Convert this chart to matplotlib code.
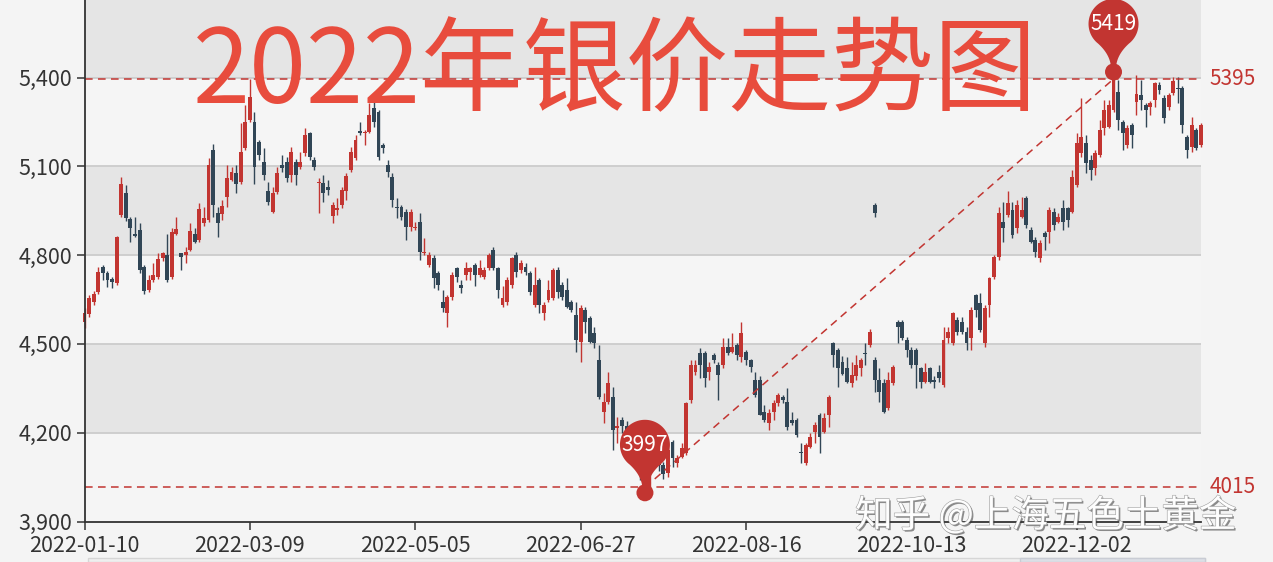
import numpy as np
import matplotlib
matplotlib.use("Agg")
import matplotlib.pyplot as plt
import matplotlib.transforms as mtransforms
import matplotlib.patheffects as pe
from matplotlib.patches import Polygon, Circle, Rectangle
from matplotlib.ticker import FuncFormatter

plt.rcParams['font.family'] = ['Noto Sans CJK SC', 'DejaVu Sans']

# =========================
# Data: one candle per trading day, 2022-01-10 onward
# =========================
opens = [4575, 4600, 4640, 4676, 4761, 4738, 4721, 4705, 4935, 5009,
         4921, 4873, 4885, 4761, 4682, 4716, 4727, 4789, 4800, 4727,
         4873, 4806, 4800, 4819, 4873, 4851, 4907, 4919, 5155, 4941,
         4939, 4997, 5054, 5076, 5048, 5161, 5256, 5251, 5183, 5116,
         5018, 4947, 5014, 5105, 5116, 5071, 5116, 5099, 5144, 5212,
         5122, 5045, 5045, 5031, 4932, 4953, 4970, 5015, 5088, 5127,
         5221, 5212, 5217, 5296, 5285, 5172, 5105, 5065, 4962, 4964,
         4947, 4896, 4890, 4913, 4806, 4767, 4789, 4739, 4643, 4604,
         4660, 4756, 4699, 4733, 4744, 4767, 4733, 4727, 4755, 4817,
         4755, 4632, 4643, 4699, 4800, 4750, 4761, 4739, 4632, 4716,
         4604, 4648, 4654, 4750, 4699, 4682, 4643, 4598, 4508, 4615,
         4587, 4536, 4446, 4271, 4305, 4322, 4215, 4243, 4221, 4160,
         4190, 4120, 4060, 4020, 4165, 4130, 4090, 4063, 4170, 4097,
         4119, 4130, 4310, 4406, 4468, 4468, 4406, 4462, 4429, 4429,
         4491, 4474, 4496, 4457, 4474, 4446, 4378, 4378, 4271, 4232,
         4271, 4299, 4322, 4305, 4243, 4243, 4135, 4097, 4153, 4204,
         4260, 4204, 4260, 4502, 4480, 4440, 4418, 4367, 4390, 4418,
         4469, 4496, 4446, 4378, 4367, 4282, 4367, 4575, 4575, 4513,
         4480, 4480, 4418, 4373, 4418, 4378, 4406, 4361, 4519, 4502,
         4581, 4575, 4541, 4519, 4665, 4637, 4502, 4632, 4727, 4795,
         4913, 4936, 4952, 4890, 4930, 4992, 4885, 4851, 4789, 4874,
         4879, 4947, 4913, 4958, 4958, 4947, 5037, 5144, 5178, 5121,
         5093, 5138, 5228, 5234, 5290, 5352, 5251, 5172, 5240, 5318,
         5341, 5307, 5301, 5324, 5375, 5330, 5301, 5347, 5365, 5363,
         5200, 5167, 5223, 5172]

closes = [4605, 4655, 4670, 4744, 4738, 4716, 4710, 4862, 5040, 4924,
          4890, 4864, 4750, 4678, 4716, 4733, 4786, 4806, 4716, 4879,
          4887, 4795, 4812, 4882, 4845, 4955, 4924, 5104, 4969, 4907,
          4967, 5059, 5082, 5042, 5149, 5251, 5335, 5099, 5138, 5071,
          4980, 5009, 5076, 5093, 5060, 5150, 5071, 5116, 5206, 5133,
          5097, 5048, 5009, 5020, 4970, 4958, 5020, 5067, 5150, 5189,
          5212, 5217, 5274, 5251, 5133, 5161, 5082, 4986, 4958, 4930,
          4896, 4947, 4896, 4812, 4812, 4800, 4722, 4699, 4620, 4660,
          4733, 4727, 4688, 4755, 4755, 4733, 4755, 4750, 4800, 4755,
          4682, 4654, 4716, 4789, 4744, 4772, 4744, 4677, 4699, 4632,
          4632, 4682, 4750, 4677, 4660, 4626, 4615, 4513, 4620, 4575,
          4508, 4502, 4322, 4305, 4367, 4209, 4221, 4221, 4160, 4190,
          4120, 4060, 4015, 4070, 4130, 4090, 4060, 4142, 4115, 4113,
          4147, 4300, 4429, 4429, 4429, 4384, 4423, 4446, 4395, 4491,
          4468, 4491, 4462, 4536, 4446, 4423, 4327, 4260, 4243, 4265,
          4299, 4327, 4310, 4220, 4232, 4192, 4130, 4158, 4187, 4226,
          4187, 4249, 4322, 4463, 4418, 4400, 4373, 4395, 4429, 4446,
          4466, 4541, 4378, 4339, 4271, 4378, 4423, 4558, 4519, 4480,
          4429, 4429, 4373, 4406, 4373, 4373, 4384, 4513, 4541, 4603,
          4541, 4541, 4502, 4615, 4615, 4547, 4620, 4722, 4795, 4941,
          4890, 4975, 4868, 4970, 4952, 4902, 4845, 4812, 4840, 4862,
          4953, 4902, 4930, 4913, 4919, 5065, 5178, 5200, 5110, 5088,
          5144, 5223, 5290, 5307, 5395, 5257, 5211, 5228, 5206, 5346,
          5324, 5290, 5313, 5380, 5358, 5262, 5341, 5390, 5360, 5240,
          5155, 5240, 5161, 5240]

highs = [4620, 4665, 4680, 4760, 4767, 4745, 4727, 4865, 5065, 5037,
         4930, 4930, 4907, 4765, 4733, 4772, 4806, 4812, 4873, 4890,
         4930, 4808, 4829, 4907, 4890, 4975, 4964, 5127, 5174, 4964,
         4986, 5104, 5099, 5104, 5245, 5307, 5395, 5284, 5189, 5161,
         5048, 5031, 5099, 5138, 5130, 5167, 5125, 5150, 5228, 5217,
         5130, 5060, 5071, 5054, 4980, 4992, 5030, 5079, 5167, 5206,
         5249, 5223, 5313, 5324, 5290, 5178, 5122, 5077, 4992, 4970,
         4955, 4955, 4913, 4941, 4857, 4812, 4800, 4745, 4682, 4665,
         4744, 4761, 4716, 4778, 4760, 4772, 4784, 4760, 4806, 4829,
         4760, 4694, 4727, 4795, 4812, 4784, 4772, 4745, 4761, 4722,
         4640, 4716, 4756, 4761, 4710, 4722, 4650, 4643, 4630, 4626,
         4595, 4558, 4497, 4333, 4406, 4356, 4254, 4254, 4240, 4200,
         4200, 4130, 4075, 4085, 4176, 4140, 4100, 4150, 4176, 4125,
         4164, 4305, 4446, 4446, 4485, 4475, 4440, 4468, 4440, 4519,
         4519, 4536, 4502, 4575, 4480, 4450, 4406, 4390, 4294, 4280,
         4310, 4333, 4327, 4350, 4271, 4250, 4164, 4165, 4198, 4237,
         4265, 4265, 4327, 4508, 4485, 4460, 4457, 4440, 4463, 4451,
         4502, 4549, 4457, 4418, 4380, 4406, 4429, 4580, 4580, 4525,
         4491, 4485, 4423, 4434, 4423, 4390, 4429, 4558, 4558, 4609,
         4590, 4590, 4558, 4626, 4670, 4671, 4630, 4727, 4800, 4964,
         4980, 5015, 4980, 4986, 4997, 5000, 4896, 4860, 4850, 4880,
         4964, 4958, 4941, 4986, 4964, 5088, 5211, 5330, 5206, 5138,
         5155, 5257, 5324, 5324, 5419, 5392, 5257, 5240, 5245, 5410,
         5392, 5313, 5320, 5385, 5386, 5341, 5347, 5403, 5403, 5370,
         5206, 5268, 5228, 5245]

lows = [4555, 4590, 4630, 4670, 4716, 4693, 4688, 4700, 4930, 4915,
        4845, 4862, 4738, 4668, 4675, 4710, 4720, 4780, 4710, 4720,
        4868, 4750, 4772, 4815, 4842, 4845, 4900, 4912, 4930, 4862,
        4919, 4964, 5050, 5009, 5040, 5155, 5250, 5042, 5121, 5054,
        4970, 4941, 5005, 5082, 5048, 5048, 5037, 5090, 5135, 5122,
        5088, 4941, 4981, 5003, 4908, 4936, 4960, 4986, 5082, 5120,
        5206, 5172, 5212, 5234, 5122, 5144, 5065, 4964, 4925, 4919,
        4851, 4880, 4885, 4784, 4800, 4760, 4688, 4682, 4609, 4558,
        4650, 4710, 4671, 4716, 4716, 4694, 4727, 4720, 4750, 4750,
        4654, 4625, 4632, 4690, 4727, 4739, 4733, 4665, 4626, 4604,
        4581, 4640, 4648, 4654, 4648, 4620, 4609, 4474, 4440, 4536,
        4502, 4485, 4315, 4232, 4298, 4142, 4164, 4198, 4140, 4130,
        4100, 4040, 3997, 4010, 4110, 4070, 4045, 4052, 4085, 4085,
        4113, 4125, 4300, 4395, 4384, 4356, 4378, 4434, 4310, 4420,
        4462, 4468, 4446, 4440, 4429, 4406, 4322, 4260, 4237, 4209,
        4243, 4290, 4299, 4209, 4226, 4187, 4097, 4090, 4147, 4164,
        4130, 4200, 4220, 4423, 4356, 4395, 4367, 4356, 4378, 4390,
        4429, 4491, 4339, 4305, 4265, 4276, 4360, 4502, 4513, 4457,
        4418, 4350, 4350, 4367, 4367, 4350, 4373, 4356, 4502, 4496,
        4530, 4535, 4480, 4480, 4592, 4541, 4491, 4592, 4720, 4784,
        4845, 4930, 4857, 4874, 4925, 4890, 4840, 4795, 4778, 4817,
        4840, 4885, 4907, 4885, 4896, 4941, 5031, 5133, 5076, 5054,
        5071, 5133, 5206, 5228, 5285, 5223, 5155, 5161, 5161, 5274,
        5290, 5234, 5273, 5301, 5346, 5245, 5290, 5340, 5313, 5211,
        5127, 5150, 5155, 5167]

# stray candle that sits far above the series in October
stray_pos = 172
stray_ohlc = [4969, 4941, 4975, 4930]

tick_labels = ["2022-01-10", "2022-03-09", "2022-05-05", "2022-06-27",
               "2022-08-16", "2022-10-13", "2022-12-02"]
label_step = 36
y_ticks = [3900, 4200, 4500, 4800, 5100, 5400]

title = "2022年银价走势图"
watermark = "知乎 @上海五色土黄金"

UP = "#c23531"
DOWN = "#314656"
MARK = "#c23531"

# =========================
# Figure / axes placed to match the 1273x562 screenshot
# =========================
W, H = 1273, 562
fig = plt.figure(figsize=(W / 100, H / 100), dpi=100, facecolor="#f4f4f4")
ax = fig.add_axes([84.5 / W, 1 - 521.5 / H, (1200.8 - 84.5) / W, 521.5 / H])
ax.set_facecolor("none")
ax.set_xlim(0, 243)
ax.set_ylim(3900, 5662)

# alternating split areas + grid lines
band_cols = ["#f5f5f5", "#e5e5e5"]
edges = y_ticks + [5700]
for k in range(len(edges) - 1):
    ax.axhspan(edges[k], edges[k + 1], color=band_cols[k % 2], lw=0, zorder=0)
for v in y_ticks[1:]:
    ax.axhline(v, color="#cccccc", lw=1.3, zorder=1)

# =========================
# Candles
# =========================
o = np.array(opens, float)
c = np.array(closes, float)
h = np.array(highs, float)
l = np.array(lows, float)
x = np.arange(len(c))
cols = np.where(c >= o, UP, DOWN)
ax.vlines(x, l, h, colors=cols, lw=1.0, zorder=3, clip_on=False)
ax.bar(x, np.maximum(np.abs(c - o), 3.4), bottom=np.minimum(o, c), width=0.85,
       color=cols, lw=0, zorder=4, clip_on=False)

so, sc, sh, sl = stray_ohlc
ax.vlines(stray_pos, sl, sh, colors=DOWN, lw=1.0, zorder=3)
ax.bar(stray_pos, abs(sc - so), bottom=min(so, sc), width=0.85, color=DOWN, lw=0, zorder=4)

# =========================
# Mark lines (min / max close) and the connecting line
# =========================
i_cmin, i_cmax = int(np.argmin(c)), int(np.argmax(c))
dash = (0, (5, 3.5))
for v in (c[i_cmin], c[i_cmax]):
    ax.axhline(v, color=MARK, lw=1.1, ls=dash, zorder=5)
    ax.annotate(f"{v:.0f}", xy=(1, v), xycoords=("axes fraction", "data"),
                xytext=(9, 0), textcoords="offset pixels", ha="left", va="center",
                color=MARK, fontsize=15, annotation_clip=False)
ax.plot([i_cmin, i_cmax], [c[i_cmin], c[i_cmax]], color=MARK, lw=1.1, ls=dash, zorder=5)


# =========================
# Pin markers at highest high / lowest low
# =========================
def pin_shape(R=25, cy=48):
    a = np.radians(np.linspace(-52, 232, 80))
    arc = np.c_[R * np.cos(a), cy + R * np.sin(a)]
    p0 = arc[-1]
    t = np.linspace(0, 1, 20)[:, None]
    ctrl = np.array([-3.0, 17.0])
    end = np.array([-2.5, 4.0])
    left = (1 - t) ** 2 * p0 + 2 * (1 - t) * t * ctrl + t ** 2 * end
    right = left[::-1] * np.array([-1, 1])
    return np.vstack([arc, left, right])


def draw_pin(xi, val, label):
    tr = mtransforms.Affine2D() + mtransforms.ScaledTranslation(xi, val, ax.transData)
    ax.add_patch(Polygon(pin_shape(), closed=True, transform=tr, fc=MARK, ec="none",
                         zorder=8, clip_on=False))
    ax.add_patch(Circle((0, 0), 8.5, transform=tr, fc=MARK, ec="none", zorder=8, clip_on=False))
    ax.annotate(label, xy=(xi, val), xytext=(0, 48), textcoords="offset pixels",
                ha="center", va="center", color="white", fontsize=15, zorder=9,
                annotation_clip=False)


i_hmax, i_lmin = int(np.argmax(h)), int(np.argmin(l))
draw_pin(i_hmax, h[i_hmax], f"{h[i_hmax]:.0f}")
draw_pin(i_lmin, l[i_lmin], f"{l[i_lmin]:.0f}")

# =========================
# Axes styling
# =========================
for s in ("top", "right"):
    ax.spines[s].set_visible(False)
for s in ("left", "bottom"):
    ax.spines[s].set_color("#333333")
    ax.spines[s].set_linewidth(1.3)
    ax.spines[s].set_zorder(6)
ax.set_yticks(y_ticks)
ax.yaxis.set_major_formatter(FuncFormatter(lambda v, p: f"{v:,.0f}"))
ax.set_xticks(np.arange(len(tick_labels)) * label_step)
ax.set_xticklabels(tick_labels)
ax.tick_params(axis="both", colors="#333333", labelsize=15.5, length=6, width=1.1, pad=3)
ax.tick_params(axis="x", pad=4)

# big title and watermark
fig.text(615 / W, 1 - 103 / H, title, fontsize=74, color="#e84c3d", ha="center", va="baseline")
fig.text(855 / W, 1 - 527 / H, watermark, fontsize=27, color="white", ha="left", va="baseline",
         alpha=0.95,
         path_effects=[pe.SimplePatchShadow(offset=(1.2, -1.2), shadow_rgbFace="#333333", alpha=0.55),
                       pe.Stroke(linewidth=0.8, foreground="#9a9a9a"), pe.Normal()])

# hint of the data-zoom slider at the bottom edge
fig.patches.append(Rectangle((88 / W, 0), (1205 - 88) / W, 4 / H, transform=fig.transFigure,
                             fc="#efefef", ec="#d6d6d6", lw=1))
fig.patches.append(Rectangle((1020 / W, 0), (1205 - 1020) / W, 4 / H, transform=fig.transFigure,
                             fc="#dcdfe6", ec="#c9ccd4", lw=1))

fig.savefig("out.png", dpi=100, facecolor=fig.get_facecolor())
